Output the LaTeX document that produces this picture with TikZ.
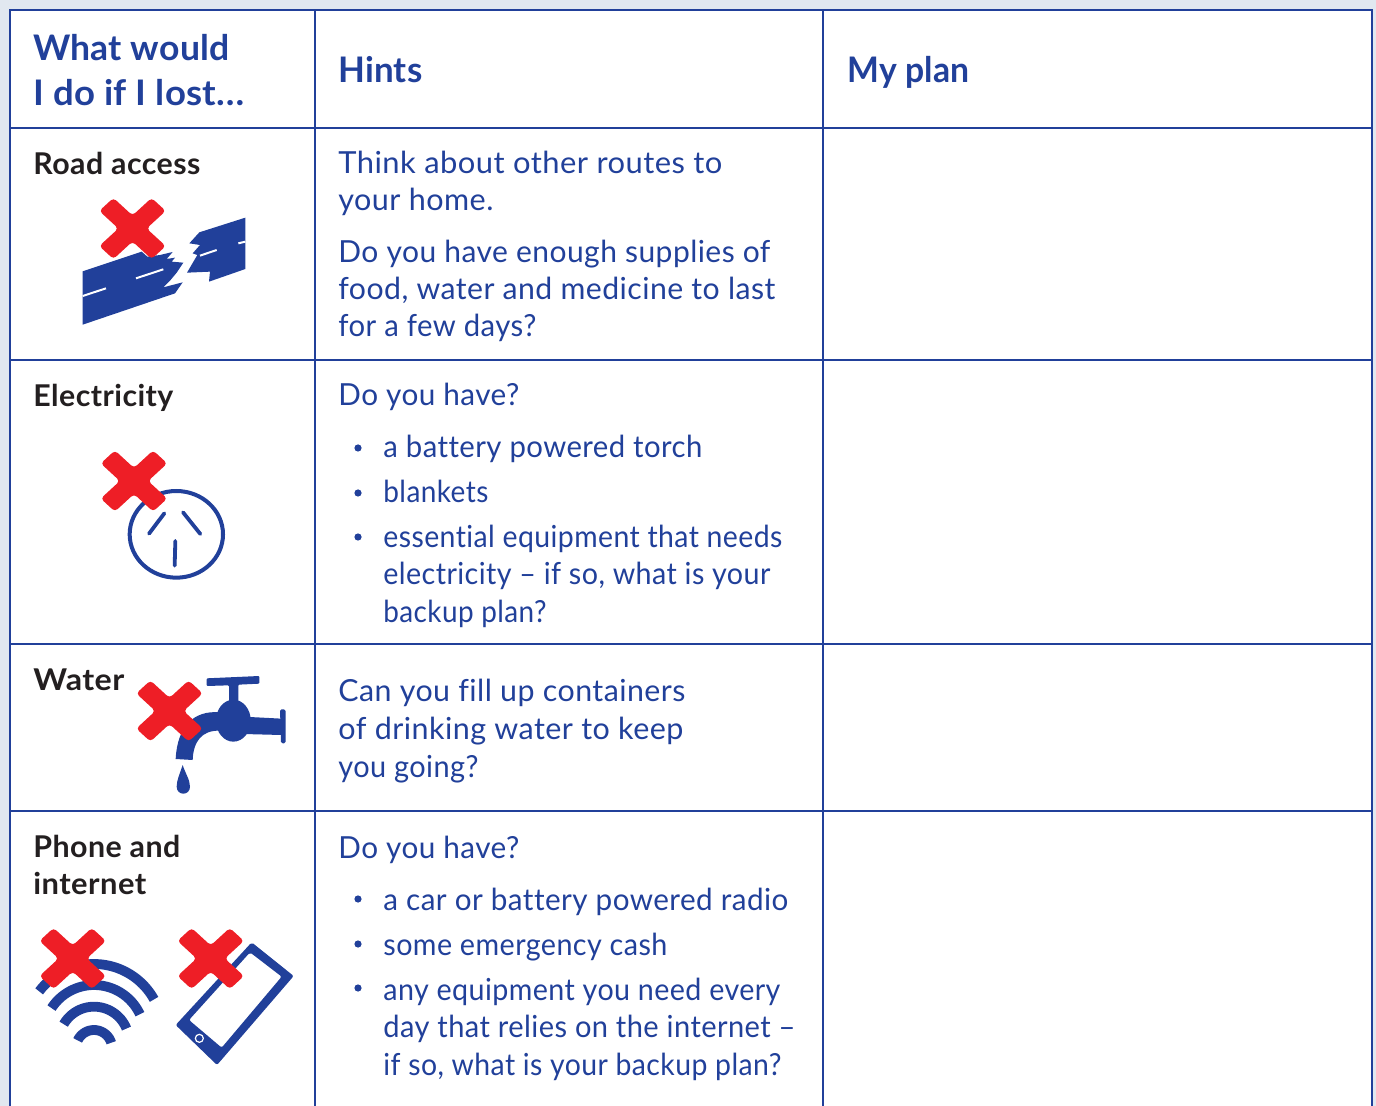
\documentclass[tikz,border=0pt]{standalone}
\usepackage{fontspec}
\usepackage{graphicx}
\setmainfont{Lato}[LetterSpace=1.5,Ligatures=CommonOff]
\newfontfamily\hdfont{Lato}[LetterSpace=0.5,Ligatures=CommonOff]
\definecolor{bluet}{RGB}{33,64,154}
\definecolor{redx}{RGB}{238,30,38}
\definecolor{pagebg}{RGB}{225,232,240}
\definecolor{inkk}{RGB}{35,31,32}
\newcommand{\fitw}[2]{\resizebox{\dimexpr#1pt/2\relax}{\height}{#2}}
\tikzset{
  grid/.style={draw=bluet,line width=1pt},
  headt/.style={anchor=base west,inner sep=0pt,text=bluet,font=\fontsize{17.6}{20}\hdfont\bfseries},
  rowt/.style={anchor=base west,inner sep=0pt,text=inkk,font=\fontsize{15}{18}\selectfont\bfseries},
  hint/.style={anchor=base west,inner sep=0pt,text=bluet,font=\fontsize{15.2}{18}\selectfont},
  bul/.style={fill=bluet,circle,inner sep=0pt,minimum size=3.6pt},
  zoomed/.style={x=0.16667pt,y=-0.16667pt},
  crossx/.pic={\fill[redx,yscale=0.92,rounded corners=1.8pt,rotate=45]
     (-37,-10)--(-10,-10)--(-10,-37)--(10,-37)--(10,-10)--(37,-10)--(37,10)--(10,10)--(10,37)--(-10,37)--(-10,10)--(-37,10)--cycle;},
}
\newcommand{\wifiarc}[3]{\draw[bluet,line width=4.9pt] plot[smooth,domain=#3:{540-#3+8},samples=30] ({207+#1*cos(\x)},{#2+#1*sin(\x)});}
\begin{document}
\begin{tikzpicture}[x=0.5pt,y=-0.5pt]
\useasboundingbox (0,0) rectangle (1376,1106);
\fill[pagebg] (0,0) rectangle (1376,1106);
\fill[white] (10,10) rectangle (1372,1106);
% grid
\draw[grid] (10,1106)--(10,10)--(1372,10)--(1372,1106);
\draw[grid] (10,128)--(1372,128);
\draw[grid] (10,360)--(1372,360);
\draw[grid] (10,644)--(1372,644);
\draw[grid] (10,811)--(1372,811);
\draw[grid] (315,10)--(315,1106);
\draw[grid] (823,10)--(823,1106);
% header
\node[headt] (h1) at (33,60.5) {\fitw{196}{What would}};
\node[headt] (h2) at (33,105.5) {\fitw{211}{I do if I lost…}};
\node[headt] (h3) at (338,82.5) {\fitw{84}{Hints}};
\node[headt] (h4) at (847,82.5) {\fitw{122}{My plan}};
% row labels
\node[rowt] (r1) at (33,175) {\fitw{167}{Road access}};
\node[rowt] (r2) at (33,407) {\fitw{140}{Electricity}};
\node[rowt] (r3) at (33,690) {\fitw{91}{Water}};
\node[rowt] (r4) at (33,857.5) {\fitw{147}{Phone and}};
\node[rowt] (r5) at (33,894) {\fitw{113}{internet}};
% hints row 1
\node[hint] (a1) at (338,174) {\fitw{384}{Think about other routes to}};
\node[hint] (a2) at (338,211) {\fitw{155}{your home.}};
\node[hint] (a3) at (338,263) {\fitw{432}{Do you have enough supplies of}};
\node[hint] (a4) at (338,300) {\fitw{437}{food, water and medicine to last}};
\node[hint] (a5) at (338,337) {\fitw{198}{for a few days?}};
% row 2
\node[hint] (b1) at (338,406) {\fitw{181}{Do you have?}};
\node[bul] (bb1) at (358,448) {};
\node[hint] (b2) at (383,458) {\fitw{319}{a battery powered torch}};
\node[bul] (bb2) at (358,493) {};
\node[hint] (b3) at (383,503) {\fitw{105}{blankets}};
\node[bul] (bb3) at (358,537) {};
\node[hint] (b4) at (383,548) {\fitw{399}{essential equipment that needs}};
\node[hint] (b5) at (383,585) {\fitw{387}{electricity – if so, what is your}};
\node[hint] (b6) at (383,623) {\fitw{163}{backup plan?}};
% row 3
\node[hint] (c1) at (338,702) {\fitw{347}{Can you fill up containers}};
\node[hint] (c2) at (338,740) {\fitw{345}{of drinking water to keep}};
\node[hint] (c3) at (338,777) {\fitw{140}{you going?}};
% row 4
\node[hint] (d1) at (338,858) {\fitw{181}{Do you have?}};
\node[bul] (db1) at (358,899) {};
\node[hint] (d2) at (383,910) {\fitw{405}{a car or battery powered radio}};
\node[bul] (db2) at (358,944) {};
\node[hint] (d3) at (383,955) {\fitw{284}{some emergency cash}};
\node[bul] (db3) at (358,988) {};
\node[hint] (d4) at (383,1000) {\fitw{397}{any equipment you need every}};
\node[hint] (d5) at (383,1037) {\fitw{412}{day that relies on the internet –}};
\node[hint] (d6) at (383,1075) {\fitw{398}{if so, what is your backup plan?}};
% road icon
\begin{scope}[shift={(60,190)},zoomed]
\fill[bluet] (68,244)--(245,185)--(262,200)--(300,195)--(338,186)--(320,207)--(345,203)--(335,215)--(370,218)--(350,248)--(330,272)--(310,292)--(368,277)--(345,310)--(68,404)--cycle;
\fill[bluet] (418,127)--(556,83)--(556,237)--(447,275)--(450,245)--(381,248)--(412,195)--(398,190)--(420,165)--(388,160)--cycle;
\draw[white,line width=1pt] (68,318)--(138,295) (228,265)--(310,238) (420,197)--(470,180) (535,160)--(556,155);
\end{scope}
\pic at (132.5,228.5) {crossx};
% socket
\begin{scope}[shift={(90,445)},zoomed]
\draw[bluet,line width=2pt] (259,268) circle[x radius=140,y radius=-130];
\draw[bluet,line width=1.9pt,line cap=round] (177,266)--(223,205) (279,202)--(331,267) (256,288)--(254,362);
\end{scope}
\pic at (134,481) {crossx};
% tap
\begin{scope}[shift={(130,670)},zoomed]
\fill[bluet,rounded corners=0.5pt] (230,25)--(388,18)--(388,41)--(325,44)--(325,100)--(297,100)--(297,46)--(230,48)--cycle;
\fill[bluet] (310,152) circle[x radius=8.7pt,y radius=10.5pt];
\fill[bluet] (340,140)--(455,146)--(455,195)--(340,192)--cycle;
\fill[bluet,rounded corners=0.8pt] (450,118)--(467,118)--(467,220)--(453,220)--cycle;
\fill[bluet] (270,127) .. controls (190,120) and (142,170) .. (137,267)--(188,270) .. controls (190,215) and (215,180) .. (270,182)--cycle;
\fill[bluet] (158,285) .. controls (150,310) and (140,330) .. (140,350) .. controls (140,378) and (180,378) .. (180,350) .. controls (180,330) and (166,310) .. (158,285)--cycle;
\end{scope}
\pic at (169.5,711) {crossx};
% wifi
\begin{scope}[shift={(25,925)},zoomed]
\wifiarc{206}{323}{217}
\wifiarc{152}{332}{213}
\wifiarc{105}{350}{210}
\wifiarc{54}{369}{205}
\fill[bluet,even odd rule,rounded corners=1pt] (680,52)--(806,153)--(576,420)--(452,300)--cycle (675,82)--(770,155)--(590,368)--(492,285)--cycle;
\draw[white,line width=0.6pt] (523,340) circle[radius=2pt];
\end{scope}
\pic at (72.7,958.5) {crossx};
\pic at (210.7,958.5) {crossx};
\end{tikzpicture}
\end{document}
